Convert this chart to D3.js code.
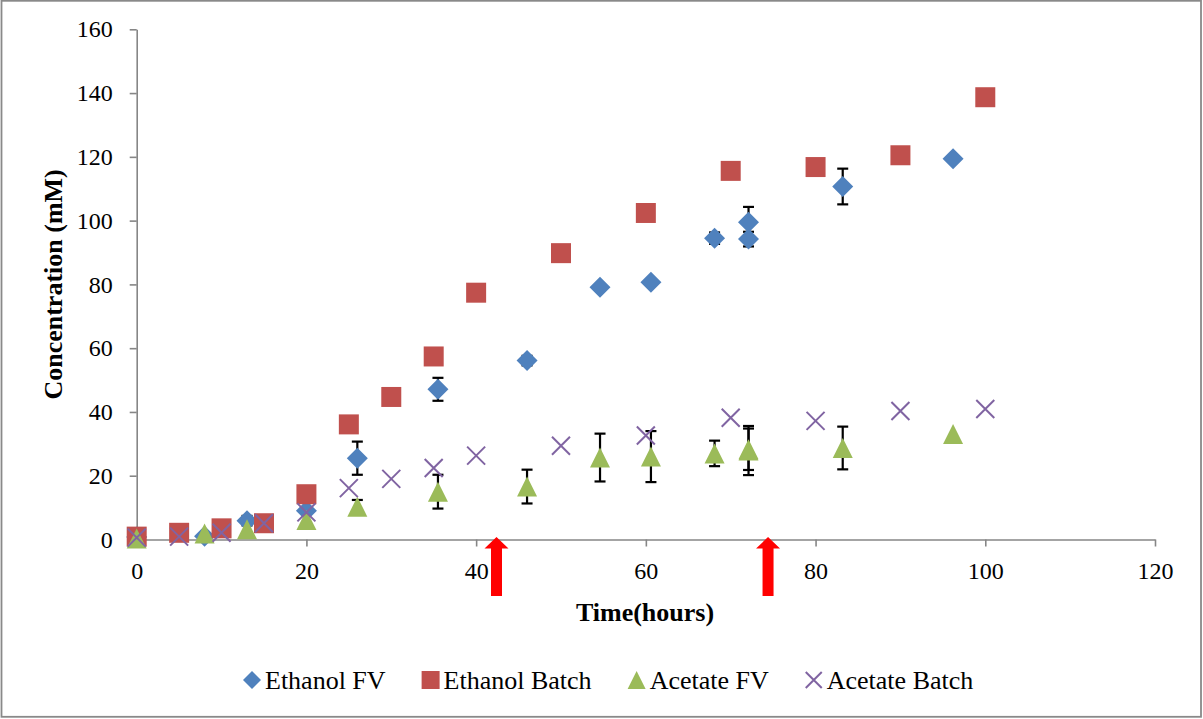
<!DOCTYPE html>
<html>
<head>
<meta charset="utf-8">
<script src="https://cdn.jsdelivr.net/npm/d3@7"></script>
<style>
  html, body { margin: 0; padding: 0; background: #fff; }
  svg { display: block; }
  text { font-family: "Liberation Serif", "Times New Roman", serif; fill: #000; }
</style>
</head>
<body>
<svg id="chart" width="1203" height="719"></svg>
<script>
// ---------- DATA ----------
const seriesNames = ["Ethanol FV", "Ethanol Batch", "Acetate FV", "Acetate Batch"];

const ethanolFVTime  = [0, 8, 13, 20, 26, 35.5, 46, 54.6, 60.6, 68.1, 72.1, 72.1, 83.2, 96.2];
const ethanolFVConc  = [0.8, 1.0, 5.9, 9.0, 25.5, 47.1, 56.1, 79.1, 80.7, 94.5, 94.2, 99.5, 110.7, 119.4];
const ethanolFVErr   = [0, 0, 1.5, 0, 5.2, 3.6, 1.5, 0, 0, 1.8, 2.3, 4.8, 5.6, 0];

const ethanolBatchTime = [0, 5, 10, 15, 20, 25, 30, 35, 40, 50, 60, 70, 80, 90, 100];
const ethanolBatchConc = [0.9, 2.1, 3.5, 5.1, 14.2, 36.1, 44.7, 57.4, 77.4, 89.8, 102.4, 115.6, 116.8, 120.5, 138.7];

const acetateFVTime = [0, 8, 13, 20, 26, 35.5, 46, 54.6, 60.6, 68.1, 72.1, 72.1, 83.2, 96.2];
const acetateFVConc = [0.3, 1.9, 3.2, 6.1, 10.3, 15.0, 16.6, 25.7, 26.0, 27.0, 27.9, 28.3, 28.7, 33.1];
const acetateFVErr  = [0, 0, 0, 0, 2.1, 5.3, 5.3, 7.5, 8.0, 4.0, 7.7, 6.5, 6.7, 0];

const acetateBatchTime = [0, 5, 10, 15, 20, 25, 30, 35, 40, 50, 60, 70, 80, 90, 100];
const acetateBatchConc = [0.6, 0.9, 2.1, 5.1, 8.5, 16.1, 19.0, 22.4, 26.3, 29.4, 32.6, 38.2, 37.2, 40.3, 40.9];

const feedTimes = [42.4, 74.4];   // red arrows (feeding events)

const xTicks = [0, 20, 40, 60, 80, 100, 120];
const yTicks = [0, 20, 40, 60, 80, 100, 120, 140, 160];

const colors = ["#4F81BD", "#C0504D", "#9BBB59", "#8064A2"];

// ---------- LAYOUT ----------
const svg = d3.select("#chart");
const plot = { left: 136.7, right: 1155, top: 29.3, bottom: 539.5 };

const x = d3.scaleLinear().domain([0, 120]).range([plot.left, plot.right]);
const y = d3.scaleLinear().domain([0, 160]).range([plot.bottom, plot.top]);

// outer border
svg.append("rect")
  .attr("x", 1.5).attr("y", 0.8).attr("width", 1199.5).attr("height", 716)
  .attr("fill", "none").attr("stroke", "#898989").attr("stroke-width", 1.8);

const axisColor = "#868686";

// X axis
const gx = svg.append("g")
  .attr("transform", `translate(0,${plot.bottom})`)
  .call(d3.axisBottom(x).tickValues(xTicks).tickSize(7).tickSizeOuter(0).tickPadding(15));
// Y axis
const gy = svg.append("g")
  .attr("transform", `translate(${plot.left},0)`)
  .call(d3.axisLeft(y).tickValues(yTicks).tickSize(7).tickSizeOuter(0).tickPadding(17));

[gx, gy].forEach(g => {
  g.select(".domain").attr("stroke", axisColor).attr("stroke-width", 1.6);
  g.selectAll(".tick line").attr("stroke", axisColor).attr("stroke-width", 1.6);
  g.selectAll(".tick text")
    .style("font-family", '"Liberation Serif", serif')
    .style("font-size", "24px").attr("fill", "#000");
});

// Axis titles
svg.append("text")
  .attr("x", 645).attr("y", 621)
  .attr("text-anchor", "middle")
  .style("font-size", "26px").style("font-weight", "bold")
  .text("Time(hours)");

svg.append("text")
  .attr("transform", `translate(62,${(plot.top + plot.bottom) / 2}) rotate(-90)`)
  .attr("text-anchor", "middle")
  .style("font-size", "26px").style("font-weight", "bold")
  .text("Concentration (mM)");

// ---------- MARKERS ----------
const symbolPath = {
  diamond: s => `M0,${-s/2}L${s/2},0L0,${s/2}L${-s/2},0Z`,
  square: s => `M${-s/2},${-s/2}h${s}v${s}h${-s}Z`,
  triangle: s => `M0,${-s/2}L${s/2},${s/2}L${-s/2},${s/2}Z`,
  cross: s => `M${-s/2},${-s/2}L${s/2},${s/2}M${s/2},${-s/2}L${-s/2},${s/2}`
};
const shapes = ["diamond", "square", "triangle", "cross"];

function drawMarker(g, shape, color, size) {
  const p = g.append("path").attr("d", symbolPath[shape](size));
  if (shape === "cross") {
    p.attr("fill", "none").attr("stroke", color).attr("stroke-width", 2);
  } else {
    p.attr("fill", color);
  }
  return p;
}

function errorBars(times, vals, errs) {
  const g = svg.append("g").attr("stroke", "#000").attr("stroke-width", 2.2).attr("fill", "none");
  times.forEach((t, i) => {
    const e = errs[i];
    if (!e) return;
    const cx = x(t), y1 = y(vals[i] + e), y0 = y(vals[i] - e);
    g.append("line").attr("x1", cx).attr("x2", cx).attr("y1", y1).attr("y2", y0);
    g.append("line").attr("x1", cx - 5.5).attr("x2", cx + 5.5).attr("y1", y1).attr("y2", y1);
    g.append("line").attr("x1", cx - 5.5).attr("x2", cx + 5.5).attr("y1", y0).attr("y2", y0);
  });
}

function drawSeries(times, vals, idx, size) {
  const g = svg.append("g");
  times.forEach((t, i) => {
    const m = g.append("g").attr("transform", `translate(${x(t)},${y(vals[i])})`);
    drawMarker(m, shapes[idx], colors[idx], size);
  });
}

errorBars(ethanolFVTime, ethanolFVConc, ethanolFVErr);
drawSeries(ethanolFVTime, ethanolFVConc, 0, 21);
drawSeries(ethanolBatchTime, ethanolBatchConc, 1, 20);
errorBars(acetateFVTime, acetateFVConc, acetateFVErr);
drawSeries(acetateFVTime, acetateFVConc, 2, 20);
drawSeries(acetateBatchTime, acetateBatchConc, 3, 18);

// ---------- RED ARROWS ----------
feedTimes.forEach(t => {
  const cx = x(t), tip = plot.bottom - 2.5, headH = 11.5, headW = 12, shaftW = 5.5, bottom = 596;
  svg.append("path")
    .attr("d", `M${cx},${tip}L${cx + headW},${tip + headH}L${cx + shaftW},${tip + headH}L${cx + shaftW},${bottom}` +
               `L${cx - shaftW},${bottom}L${cx - shaftW},${tip + headH}L${cx - headW},${tip + headH}Z`)
    .attr("fill", "#FF0000");
});

// ---------- LEGEND ----------
const legend = svg.append("g");
let lx = 252;
const ly = 680;
seriesNames.forEach((name, i) => {
  const m = legend.append("g").attr("transform", `translate(${lx},${ly})`);
  drawMarker(m, shapes[i], colors[i], shapes[i] === "cross" ? 16 : 18);
  const t = legend.append("text")
    .attr("x", lx + 13).attr("y", ly + 8.5)
    .style("font-size", "26px")
    .text(name);
  const w = t.node().getComputedTextLength();
  lx = lx + 13 + w + 45;
});
</script>
</body>
</html>
